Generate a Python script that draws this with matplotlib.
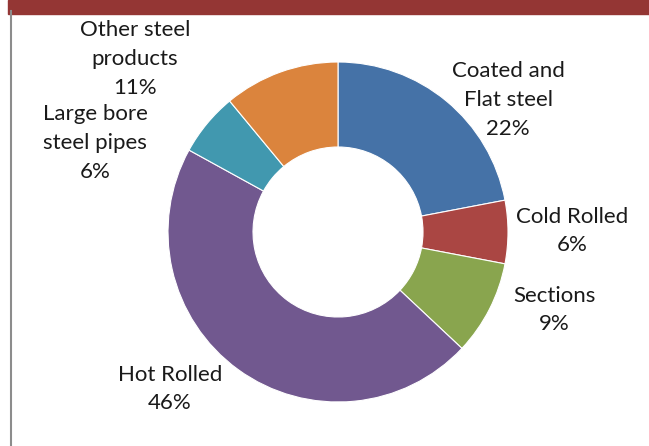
import matplotlib.pyplot as plt
from matplotlib.patches import Rectangle
from matplotlib.lines import Line2D

# product mix shares (%)
categories = ['Coated and\nFlat steel', 'Cold Rolled', 'Sections', 'Hot Rolled',
              'Large bore\nsteel pipes', 'Other steel\nproducts']
shares = [22, 6, 9, 46, 6, 11]
colors = ['#4572A7', '#AA4643', '#89A54E', '#71588F', '#4198AF', '#DB843D']

# label centres in pixels (x, y from top)
label_pos = [(508, 100), (572, 231), (554, 310), (170, 389), (95, 143), (135, 59)]

W, H = 649, 446
fig = plt.figure(figsize=(W / 100, H / 100), dpi=100)
plt.rcParams['font.family'] = ['Lato', 'DejaVu Sans']

cx, cy, r = 338, 232, 170
ax = fig.add_axes([(cx - r) / W, (H - cy - r) / H, 2 * r / W, 2 * r / H])
ax.pie(shares, colors=colors, startangle=90, counterclock=False, radius=1,
       wedgeprops=dict(width=0.5, edgecolor='white', linewidth=0.8))
ax.set_xlim(-1, 1)
ax.set_ylim(-1, 1)
ax.set_aspect('equal')
ax.axis('off')

for name, val, (x, y) in zip(categories, shares, label_pos):
    fig.text(x / W, 1 - y / H, f'{name}\n{val}%', ha='center', va='center',
             fontsize=16, color='#1a1a1a', linespacing=1.55)

# header band and left rule
fig.patches.append(Rectangle((8 / W, 1 - 14 / H), 1, 14 / H, transform=fig.transFigure,
                             color='#943634', zorder=0))
fig.lines.append(Line2D([11 / W, 11 / W], [0, 1 - 11 / H], transform=fig.transFigure,
                        color='#8c8c8c', linewidth=1.5))

fig.savefig('out.png', dpi=100)
